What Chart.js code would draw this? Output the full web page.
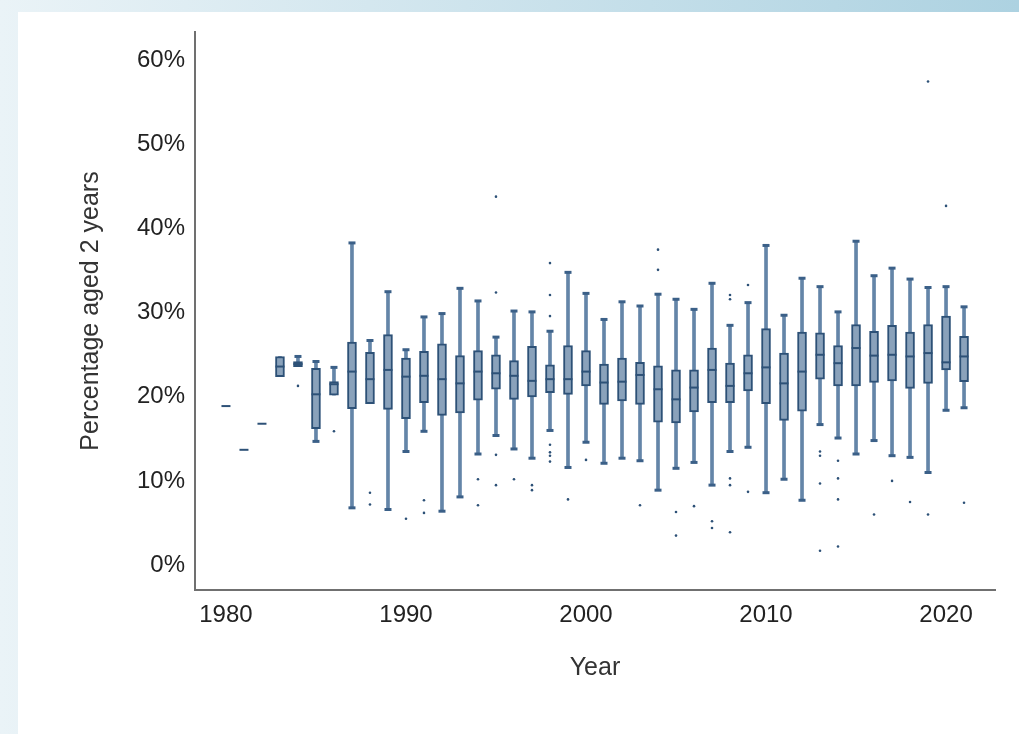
<!DOCTYPE html>
<html>
<head>
<meta charset="utf-8">
<script src="https://cdn.jsdelivr.net/npm/chart.js@4/dist/chart.umd.min.js"></script>
<style>
  html, body { margin: 0; padding: 0; overflow: hidden; }
  body {
    width: 1019px; height: 734px; position: relative;
    background: linear-gradient(to right, #eaf3f7, #add2e1);
  }
  #panel { position: absolute; left: 18px; top: 12px; right: 0; bottom: 0; background: #fff; }
  #cv { position: absolute; left: 0; top: 0; }
</style>
</head>
<body>
<div id="panel"></div>
<canvas id="cv" width="1019" height="734"></canvas>
<script>
// values in percent, one entry per year
var years = [1980,1981,1982,1983,1984,1985,1986,1987,1988,1989,1990,1991,1992,1993,1994,1995,1996,1997,1998,1999,
             2000,2001,2002,2003,2004,2005,2006,2007,2008,2009,2010,2011,2012,2013,2014,2015,2016,2017,2018,2019,2020,2021];
var lowWhisker = [18.9,13.7,16.8,22.4,23.6,14.7,20.2,6.8,19.2,6.6,13.5,15.9,6.4,8.1,13.2,15.4,13.8,12.7,16.0,11.6,
                  14.6,12.1,12.7,12.4,8.9,11.5,12.2,9.5,13.5,14.0,8.6,10.2,7.7,16.7,15.1,13.2,14.8,13.0,12.8,11.0,18.4,18.7];
var q1 = [18.9,13.7,16.8,22.4,23.6,16.2,20.2,18.6,19.2,18.5,17.4,19.3,17.8,18.1,19.6,20.9,19.7,20.0,20.5,20.3,
          21.3,19.1,19.5,19.1,17.0,16.9,18.2,19.3,19.3,20.7,19.2,17.2,18.3,22.1,21.3,21.3,21.7,21.9,21.0,21.6,23.2,21.8];
var median = [18.9,13.7,16.8,23.6,23.9,20.3,21.5,23.0,22.1,23.2,22.4,22.5,22.1,21.6,23.0,22.8,22.5,21.9,22.1,22.1,
              23.0,21.7,21.8,22.6,20.9,19.7,21.1,23.2,21.3,22.8,23.5,21.6,23.0,25.0,24.0,25.8,24.9,25.0,24.8,25.2,24.1,24.8];
var q3 = [18.9,13.7,16.8,24.8,24.2,23.4,21.8,26.5,25.3,27.4,24.6,25.4,26.3,24.9,25.5,25.0,24.3,26.0,23.8,26.1,
          25.5,23.9,24.6,24.1,23.7,23.2,23.2,25.8,24.0,25.0,28.1,25.2,27.7,27.6,26.1,28.6,27.8,28.5,27.7,28.6,29.6,27.2];
var highWhisker = [18.9,13.7,16.8,24.8,24.8,24.2,23.5,38.3,26.7,32.5,25.6,29.5,29.9,32.9,31.4,27.1,30.2,30.1,27.8,34.8,
                   32.3,29.2,31.3,30.8,32.2,31.6,30.4,33.5,28.5,31.2,38.0,29.7,34.1,33.1,30.1,38.5,34.4,35.3,34.0,33.0,33.1,30.7];

var outlierYears = [1984,1986,1988,1988,1990,1991,1991,1994,1994,1995,1995,1995,1995,1996,1997,1997,
                    1998,1998,1998,1998,1998,1998,1998,1999,2000,2003,2004,2004,2005,2005,2006,2007,2007,
                    2008,2008,2008,2008,2008,2009,2009,2013,2013,2013,2013,2014,2014,2014,2014,
                    2016,2017,2018,2019,2019,2020,2021];
var outlierValues = [21.3,15.9,8.6,7.2,5.5,7.7,6.2,10.2,7.1,43.8,32.4,13.1,9.5,10.2,9.5,8.9,
                     35.9,32.1,29.6,14.3,13.4,13.0,12.3,7.8,12.5,7.1,37.5,35.1,6.3,3.5,7.0,5.2,4.4,
                     32.1,31.6,10.3,9.5,3.9,33.3,8.7,13.5,13.0,9.7,1.7,12.4,10.3,7.8,2.2,
                     6.0,10.0,7.5,57.5,6.0,42.7,7.4];

var yTicks = [0, 10, 20, 30, 40, 50, 60];
var xTicks = [1980, 1990, 2000, 2010, 2020];

var DARK = '#2d5177';

var whiskerData = [], boxData = [], medianData = [], capData = [], outlierData = [];
years.forEach(function(yr, i) {
    if (highWhisker[i] > lowWhisker[i]) whiskerData.push({ x: yr, y: [lowWhisker[i], highWhisker[i]] });
    if (q3[i] > q1[i]) boxData.push({ x: yr, y: [q1[i], q3[i]] });
    medianData.push({ x: yr, y: median[i] });
    if (lowWhisker[i] < q1[i]) capData.push({ x: yr, y: lowWhisker[i] });
    if (highWhisker[i] > q3[i]) capData.push({ x: yr, y: highWhisker[i] });
});
for (var k = 0; k < outlierYears.length; k++) {
    outlierData.push({ x: outlierYears[k], y: outlierValues[k] });
}

Chart.defaults.font.family = '"Liberation Sans", Arial, sans-serif';
Chart.defaults.color = '#222';

var ctx = document.getElementById('cv').getContext('2d');
var chart = new Chart(ctx, {
    type: 'bar',
    data: {
        datasets: [{
            type: 'scatter',
            data: outlierData,
            pointStyle: 'circle',
            pointRadius: 1.3,
            pointBackgroundColor: DARK,
            pointBorderWidth: 0,
            order: 1
        }, {
            type: 'scatter',
            data: capData,
            pointStyle: 'line',
            pointRadius: 3.5,
            pointBorderWidth: 3,
            pointBorderColor: '#3b6088',
            order: 2
        }, {
            type: 'scatter',
            data: medianData,
            pointStyle: 'line',
            pointRadius: 4.5,
            pointBorderWidth: 2,
            pointBorderColor: DARK,
            order: 3
        }, {
            data: boxData,
            backgroundColor: '#8aa2bb',
            borderColor: DARK,
            borderWidth: 2,
            borderSkipped: false,
            barThickness: 9,
            grouped: false,
            order: 4
        }, {
            data: whiskerData,
            backgroundColor: '#6485a8',
            borderWidth: 0,
            barThickness: 3,
            grouped: false,
            order: 5
        }]
    },
    options: {
        responsive: false,
        animation: false,
        layout: { padding: { left: 72, right: 24, top: 32, bottom: 47 } },
        plugins: { legend: { display: false }, tooltip: { enabled: false } },
        scales: {
            x: {
                type: 'linear',
                offset: false,
                min: 1978.28,
                max: 2022.72,
                afterBuildTicks: function(scale) {
                    scale.ticks = xTicks.map(function(v) { return { value: v }; });
                },
                afterFit: function(scale) { scale.height = 97; },
                grid: { display: false, drawTicks: false },
                border: { display: true, color: '#707070', width: 2 },
                ticks: {
                    padding: 11,
                    font: { size: 24 },
                    color: '#222',
                    maxRotation: 0,
                    callback: function(v) { return String(v); }
                },
                title: {
                    display: true,
                    text: 'Year',
                    font: { size: 25 },
                    color: '#333',
                    padding: { top: 0, bottom: 4 }
                }
            },
            y: {
                min: -2.97,
                max: 63.38,
                afterBuildTicks: function(scale) {
                    scale.ticks = yTicks.map(function(v) { return { value: v }; });
                },
                afterFit: function(scale) { scale.width = 123; },
                grid: { display: false, drawTicks: false },
                border: { display: true, color: '#707070', width: 2 },
                ticks: {
                    padding: 10,
                    font: { size: 24 },
                    color: '#222',
                    callback: function(v) { return v + '%'; }
                },
                title: {
                    display: true,
                    text: 'Percentage aged 2 years',
                    font: { size: 25 },
                    color: '#333',
                    padding: 4
                }
            }
        }
    }
});
</script>
</body>
</html>
